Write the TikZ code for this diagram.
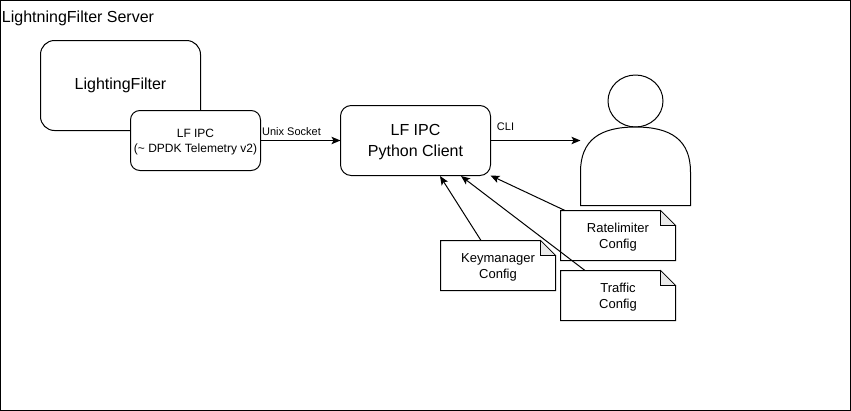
\documentclass[tikz,border=0pt]{standalone}
\usepackage{fontspec}
\setmainfont{Liberation Sans}
\usetikzlibrary{arrows.meta,shapes.geometric}
\tikzset{
 every node/.style={outer sep=0pt},
 box/.style={draw=black,fill=white,line width=0.75pt,align=center,inner sep=0pt,minimum width=#1},
 big/.style={font=\fontsize{12}{15}\selectfont},
 arr/.style={draw=black,line width=0.75pt,-{Stealth[length=6.8pt,width=5.6pt,inset=1.6pt]}},
 lbl/.style={font=\fontsize{8.25}{10}\selectfont,inner sep=0pt},
 notebox/.style={fill=white,minimum width=86.25pt,minimum height=37.5pt,inner sep=0pt,align=center,font=\fontsize{9.75}{12}\selectfont},
 outline/.style={draw=black,line width=0.75pt,line join=miter},
 fold/.style={draw=black,fill=black!8,line width=0.5pt,line join=miter}
}
\newcommand{\notedraw}[1]{%
 \draw[outline] (#1.north west) -- ([xshift=-15*0.75pt]#1.north east) -- ([yshift=-15*0.75pt]#1.north east) -- (#1.south east) -- (#1.south west) -- cycle;
 \draw[fold] ([xshift=-15*0.75pt]#1.north east) -- ([xshift=-15*0.75pt,yshift=-15*0.75pt]#1.north east) -- ([yshift=-15*0.75pt]#1.north east) -- cycle;
}
\newcommand{\lowr}[1]{\rule{0pt}{#1}}
\begin{document}
\begin{tikzpicture}[x=0.75pt,y=-0.75pt]
\useasboundingbox (0,0) rectangle (851,411);
\node[draw=black,line width=0.75pt,minimum width=637.5pt,minimum height=307.5pt,inner sep=0pt,anchor=north west] (frame) at (0.5,0.5) {};
\node[anchor=base west,inner sep=0pt,big] (title) at (2,22) {LightningFilter Server};
\node[box=120pt,big,rounded corners=10.5pt,minimum height=67.5pt,anchor=north west] (lf) at (40.5,40.5) {LightingFilter};
\node[box=97.5pt,rounded corners=7pt,minimum height=45pt,anchor=north west,font=\fontsize{9}{11.25}\selectfont] (ipc) at (130.5,110.5) {\lowr{8.7pt}LF IPC\\(\textasciitilde{} DPDK Telemetry v2)};
\node[box=112.5pt,rounded corners=8pt,minimum height=52.5pt,anchor=north west,font=\fontsize{12}{15.75}\selectfont] (client) at (340.5,105.5) {\lowr{10.2pt}LF IPC\\Python Client};
% person
\node[draw=black,fill=white,line width=0.75pt,ellipse,minimum width=41.25pt,minimum height=39pt,inner sep=0pt] (head) at (635.5,101) {};
\coordinate (bl) at (580.5,205.5);
\coordinate (br) at (690.5,205.5);
\coordinate (user) at (580.5,140.5);
\draw[outline,fill=white] (bl) -- (580.5,172) .. controls (580.5,140) and (600,127) .. (635.5,127) .. controls (671,127) and (690.5,140) .. (690.5,172) -- (br) -- cycle;
% notes
\node[notebox,anchor=north west] (rate) at (560.5,210.5) {\lowr{9.3pt}Ratelimiter\\Config};
\notedraw{rate}
\node[notebox,anchor=north west] (keym) at (440.5,240.5) {\lowr{9.3pt}Keymanager\\Config};
\notedraw{keym}
\node[notebox,anchor=north west] (traf) at (560.5,270.5) {\lowr{9.3pt}Traffic\\Config};
\notedraw{traf}
% connectors
\draw[arr] (ipc.east |- 0,140.5) -- (client.west |- 0,140.5);
\draw[arr] (client.east |- 0,140.5) -- (user);
\coordinate (k1) at (481,240.5); \coordinate (k2) at (440,176);
\coordinate (t1) at (585,270.5); \coordinate (t2) at (461,176);
\coordinate (r1) at (565,210.5); \coordinate (r2) at (490.5,175.5);
\draw[arr] (k1) -- (k2);
\draw[arr] (t1) -- (t2);
\draw[arr] (r1) -- (r2);
\node[lbl,anchor=base] (unix) at (291.5,135) {Unix Socket};
\node[lbl,anchor=base] (cli) at (505.5,130) {CLI};
\end{tikzpicture}
\end{document}
